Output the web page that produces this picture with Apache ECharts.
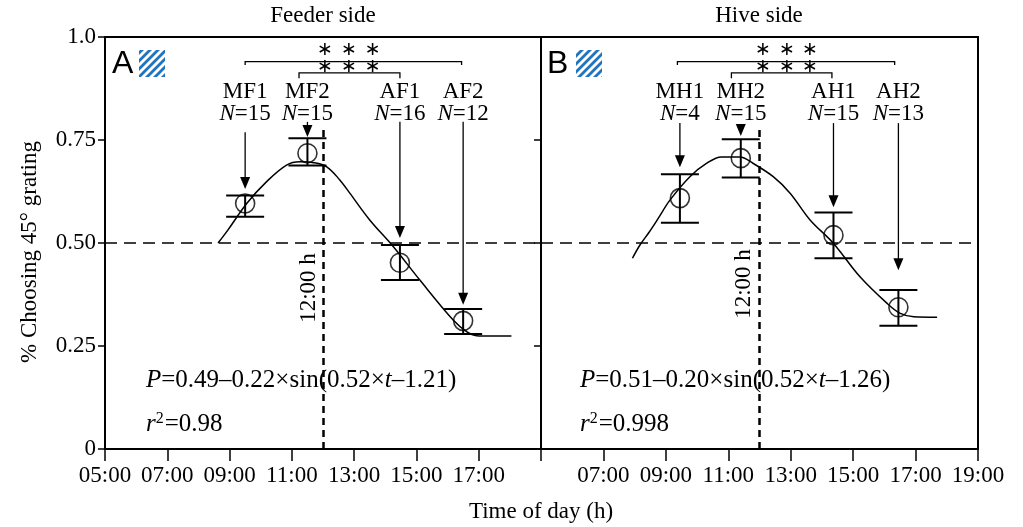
<!DOCTYPE html>
<html>
<head>
<meta charset="utf-8">
<script src="https://cdn.jsdelivr.net/npm/echarts@6/dist/echarts.min.js"></script>
<style>
html,body{margin:0;padding:0;background:#fff;}
#chart{width:1023px;height:527px;}
</style>
</head>
<body>
<div id="chart"></div>
<script>
// ---------------- DATA ----------------
const xTicks = [5, 7, 9, 11, 13, 15, 17, 19];
const yTickLabels = {0: '0', 0.25: '0.25', 0.5: '0.50', 0.75: '0.75', 1: '1.0'};
const panelTitles = ['Feeder side', 'Hive side'];
const panelLetters = ['A', 'B'];

// Panel A (feeder side)
const timesA = [9.5, 11.5, 14.47, 16.5];
const meanA = [0.596, 0.718, 0.452, 0.311];
const upperA = [0.615, 0.754, 0.495, 0.340];
const lowerA = [0.564, 0.688, 0.410, 0.279];
const labelsA = ['MF1', 'MF2', 'AF1', 'AF2'];
const nA = [15, 15, 16, 12];
const arrowFromA = [0.769, 0.794, 0.794, 0.794];
const arrowToA = [0.631, 0.757, 0.512, 0.350];
const curveTimeA = [8.63, 8.95, 9.55, 10.19, 10.83, 11.26, 11.69, 12.12, 12.54, 12.86, 13.5, 14.26, 15.11, 16.18, 16.61, 16.93, 17.4, 18.05];
const curveValA = [0.50, 0.532, 0.596, 0.649, 0.689, 0.697, 0.695, 0.685, 0.653, 0.621, 0.556, 0.491, 0.41, 0.313, 0.285, 0.275, 0.274, 0.274];
const bracketsA = [[9.5, 16.45, 0.940, 0.932], [11.23, 14.47, 0.913, 0.900]];
const starsXA = [12.06, 12.83, 13.6];
const equationA = ['P', '=0.49–0.22×sin(0.52×', 't', '–1.21)'];
const r2A = '0.98';

// Panel B (hive side)
const timesB = [9.45, 11.4, 14.37, 16.45];
const meanB = [0.609, 0.706, 0.519, 0.344];
const upperB = [0.667, 0.752, 0.574, 0.386];
const lowerB = [0.549, 0.659, 0.463, 0.299];
const labelsB = ['MH1', 'MH2', 'AH1', 'AH2'];
const nB = [4, 15, 15, 13];
const arrowFromB = [0.791, 0.782, 0.791, 0.791];
const arrowToB = [0.684, 0.760, 0.587, 0.434];
const curveTimeB = [7.93, 8.16, 8.48, 8.75, 9.13, 9.77, 10.3, 10.78, 11.37, 11.8, 12.44, 12.98, 13.62, 14.37, 15.22, 16.08, 16.51, 16.94, 17.69];
const curveValB = [0.463, 0.494, 0.528, 0.559, 0.604, 0.661, 0.693, 0.709, 0.709, 0.693, 0.661, 0.621, 0.556, 0.499, 0.418, 0.354, 0.329, 0.321, 0.320];
const bracketsB = [[9.37, 16.33, 0.940, 0.932], [11.1, 14.32, 0.913, 0.900]];
const starsXB = [12.11, 12.88, 13.62];
const equationB = ['P', '=0.51–0.20×sin(0.52×', 't', '–1.26)'];
const r2B = '0.998';

const starRows = [0.968, 0.927];
const chanceLevel = 0.5;
const noonTime = 12;
const noonLineTop = 0.785;
const labelLevel = 0.84;

// ---------------- STYLE ----------------
const SERIF = '"Liberation Serif", "Times New Roman", serif';
const SANS = '"Liberation Sans", Arial, sans-serif';
const FS = 23;

const chart = echarts.init(document.getElementById('chart'), null, {renderer: 'canvas'});

function hhmm(v) { return (v < 10 ? '0' : '') + v + ':00'; }

function panelSeries(k, times, mean, upper, lower, labels, ns, aFrom, aTo, cT, cV, brackets, starsX) {
  const ax = {xAxisIndex: k, yAxisIndex: k};
  return [
    Object.assign({
      type: 'line', smooth: 0.35, showSymbol: false, silent: true,
      data: cT.map((t, i) => [t, cV[i]]),
      lineStyle: {color: '#000', width: 1.5}, z: 3,
      markLine: {
        silent: true, symbol: ['none', 'none'], label: {show: false},
        data: [
          {yAxis: chanceLevel, lineStyle: {type: [12, 7], width: 1.5, color: '#000'}},
          [{coord: [noonTime, 0], lineStyle: {type: [7, 5], width: 2.5, color: '#000'}}, {coord: [noonTime, noonLineTop]}]
        ]
      }
    }, ax),
    Object.assign({
      type: 'custom', silent: true, z: 4,
      data: times.map((t, i) => [t, mean[i], lower[i], upper[i]]),
      renderItem: function (params, api) {
        const t = api.value(0);
        const hi = api.coord([t, api.value(3)]);
        const lo = api.coord([t, api.value(2)]);
        const st = {stroke: '#000', lineWidth: 2};
        return {type: 'group', children: [
          {type: 'line', shape: {x1: hi[0], y1: hi[1], x2: lo[0], y2: lo[1]}, style: st},
          {type: 'line', shape: {x1: hi[0] - 19, y1: hi[1], x2: hi[0] + 19, y2: hi[1]}, style: st},
          {type: 'line', shape: {x1: lo[0] - 19, y1: lo[1], x2: lo[0] + 19, y2: lo[1]}, style: st}
        ]};
      }
    }, ax),
    Object.assign({
      type: 'scatter', silent: true, z: 5, symbol: 'circle', symbolSize: 19,
      data: times.map((t, i) => [t, mean[i]]),
      itemStyle: {color: 'rgba(0,0,0,0)', borderColor: '#000', borderWidth: 1.6}
    }, ax),
    Object.assign({
      type: 'custom', silent: true, z: 6,
      data: times.map((t, i) => [t, aFrom[i], aTo[i]]),
      renderItem: function (params, api) {
        const i = params.dataIndex;
        const t = api.value(0);
        const p1 = api.coord([t, api.value(1)]);
        const p2 = api.coord([t, api.value(2)]);
        const lab = api.coord([t, labelLevel]);
        return {type: 'group', children: [
          {type: 'line', shape: {x1: p1[0], y1: p1[1], x2: p2[0], y2: p2[1] - 8}, style: {stroke: '#000', lineWidth: 1.3}},
          {type: 'polygon', shape: {points: [[p2[0], p2[1]], [p2[0] - 5, p2[1] - 12], [p2[0] + 5, p2[1] - 12]]}, style: {fill: '#000'}},
          {type: 'text', x: lab[0], y: lab[1], style: {
            text: labels[i] + '\n{i|N}=' + ns[i],
            fill: '#000', fontSize: FS, fontFamily: SERIF, align: 'center', verticalAlign: 'middle', lineHeight: 22,
            rich: {i: {fontStyle: 'italic', fontSize: FS, fontFamily: SERIF, fill: '#000', lineHeight: 22}}
          }}
        ]};
      }
    }, ax),
    Object.assign({
      type: 'custom', silent: true, z: 6,
      data: brackets,
      renderItem: function (params, api) {
        const a = api.coord([api.value(0), api.value(3)]);
        const b = api.coord([api.value(0), api.value(2)]);
        const c = api.coord([api.value(1), api.value(2)]);
        const d = api.coord([api.value(1), api.value(3)]);
        return {type: 'polyline', shape: {points: [a, b, c, d]}, style: {stroke: '#000', lineWidth: 1.3, fill: null}};
      }
    }, ax),
    Object.assign({
      type: 'custom', silent: true, z: 7,
      data: starRows.flatMap(r => starsX.map(x => [x, r])),
      renderItem: function (params, api) {
        const p = api.coord([api.value(0), api.value(1)]);
        return {type: 'text', x: p[0], y: p[1], style: {text: '∗', fontSize: 19, fontFamily: '"DejaVu Sans", sans-serif', fill: '#000', align: 'center', verticalAlign: 'middle'}};
      }
    }, ax)
  ];
}

// hatch pattern
const pat = document.createElement('canvas');
pat.width = 8; pat.height = 8;
(function () {
  const c = pat.getContext('2d');
  c.fillStyle = '#fff'; c.fillRect(0, 0, 8, 8);
  c.strokeStyle = '#1f74c0'; c.lineWidth = 2.8;
  c.beginPath();
  c.moveTo(-2, 10); c.lineTo(10, -2);
  c.moveTo(-2, 2); c.lineTo(2, -2);
  c.moveTo(6, 10); c.lineTo(10, 6);
  c.stroke();
})();

const EQFS = 25;
function eqText(parts) { return '{i|' + parts[0] + '}' + parts[1] + '{i|' + parts[2] + '}' + parts[3]; }
const eqRich = {
  i: {fontStyle: 'italic', fontSize: EQFS, fontFamily: SERIF, fill: '#000', lineHeight: 26},
  s: {fontSize: 16, fontFamily: SERIF, fill: '#000', verticalAlign: 'top', lineHeight: 26, padding: [0, 1, 0, 0]}
};

const axisLineStyle = {color: '#000', width: 2};

const option = {
  animation: false,
  backgroundColor: '#fff',
  grid: [
    {left: 105, top: 37, width: 436, height: 412, show: true, borderColor: '#000', borderWidth: 2, backgroundColor: 'transparent'},
    {left: 541, top: 37, width: 437, height: 412, show: true, borderColor: '#000', borderWidth: 2, backgroundColor: 'transparent'}
  ],
  xAxis: [0, 1].map(k => ({
    type: 'value', gridIndex: k, min: xTicks[0], max: xTicks[xTicks.length - 1], interval: 2,
    axisLine: {show: true, lineStyle: axisLineStyle},
    axisTick: {show: true, inside: false, length: 12, lineStyle: {color: '#000', width: 1.5}},
    splitLine: {show: false},
    axisLabel: {
      color: '#000', fontSize: FS, fontFamily: SERIF, margin: 15, showMinLabel: true, showMaxLabel: true,
      formatter: v => (k === 0 && v === 19) || (k === 1 && v === 5) ? '' : hhmm(v)
    }
  })),
  yAxis: [
    {type: 'value', gridIndex: 0, min: 0, max: 1, interval: 0.25,
      axisLine: {show: true, lineStyle: axisLineStyle},
      axisTick: {show: true, inside: false, length: 7, lineStyle: {color: '#000', width: 1.5}},
      splitLine: {show: false},
      axisLabel: {color: '#000', fontSize: FS, fontFamily: SERIF, margin: 9, formatter: v => yTickLabels[v]}},
    {type: 'value', gridIndex: 1, min: 0, max: 1, interval: 0.25,
      axisLine: {show: true, lineStyle: axisLineStyle}, axisTick: {show: false}, axisLabel: {show: false}, splitLine: {show: false}},
    {type: 'value', gridIndex: 0, min: 0, max: 1, interval: 0.25, position: 'right',
      axisLine: {show: false}, axisTick: {show: true, inside: true, length: 7, lineStyle: {color: '#000', width: 1.5}},
      axisLabel: {show: false}, splitLine: {show: false}}
  ],
  graphic: {elements: [
    {type: 'text', x: 323, y: 16, style: {text: panelTitles[0], fontSize: FS, fontFamily: SERIF, fill: '#000', align: 'center', verticalAlign: 'middle'}},
    {type: 'text', x: 759, y: 16, style: {text: panelTitles[1], fontSize: FS, fontFamily: SERIF, fill: '#000', align: 'center', verticalAlign: 'middle'}},
    {type: 'text', x: 541, y: 512, style: {text: 'Time of day (h)', fontSize: FS, fontFamily: SERIF, fill: '#000', align: 'center', verticalAlign: 'middle'}},
    {type: 'text', x: 30, y: 252, rotation: Math.PI / 2, style: {text: '% Choosing 45° grating', fontSize: FS, fontFamily: SERIF, fill: '#000', align: 'center', verticalAlign: 'middle'}},
    {type: 'text', x: 112, y: 64, style: {text: panelLetters[0], fontSize: 32, fontFamily: SANS, fill: '#000', align: 'left', verticalAlign: 'middle'}},
    {type: 'text', x: 547, y: 64, style: {text: panelLetters[1], fontSize: 32, fontFamily: SANS, fill: '#000', align: 'left', verticalAlign: 'middle'}},
    {type: 'rect', shape: {x: 139, y: 50, width: 26, height: 27}, style: {fill: {image: pat, repeat: 'repeat'}}},
    {type: 'rect', shape: {x: 576, y: 50, width: 26, height: 27}, style: {fill: {image: pat, repeat: 'repeat'}}},
    {type: 'text', x: 309, y: 288, rotation: Math.PI / 2, style: {text: '12:00 h', fontSize: FS, fontFamily: SERIF, fill: '#000', align: 'center', verticalAlign: 'middle'}},
    {type: 'text', x: 744, y: 284, rotation: Math.PI / 2, style: {text: '12:00 h', fontSize: FS, fontFamily: SERIF, fill: '#000', align: 'center', verticalAlign: 'middle'}},
    {type: 'text', x: 146, y: 380, style: {text: eqText(equationA), rich: eqRich, fontSize: EQFS, fontFamily: SERIF, fill: '#000', align: 'left', verticalAlign: 'middle', lineHeight: 26}},
    {type: 'text', x: 146, y: 424, style: {text: '{i|r}{s|2}=' + r2A, rich: eqRich, fontSize: EQFS, fontFamily: SERIF, fill: '#000', align: 'left', verticalAlign: 'middle', lineHeight: 26}},
    {type: 'text', x: 580, y: 380, style: {text: eqText(equationB), rich: eqRich, fontSize: EQFS, fontFamily: SERIF, fill: '#000', align: 'left', verticalAlign: 'middle', lineHeight: 26}},
    {type: 'text', x: 580, y: 424, style: {text: '{i|r}{s|2}=' + r2B, rich: eqRich, fontSize: EQFS, fontFamily: SERIF, fill: '#000', align: 'left', verticalAlign: 'middle', lineHeight: 26}}
  ]},
  series: [].concat(
    panelSeries(0, timesA, meanA, upperA, lowerA, labelsA, nA, arrowFromA, arrowToA, curveTimeA, curveValA, bracketsA, starsXA),
    panelSeries(1, timesB, meanB, upperB, lowerB, labelsB, nB, arrowFromB, arrowToB, curveTimeB, curveValB, bracketsB, starsXB)
  )
};
chart.setOption(option);
</script>
</body>
</html>
